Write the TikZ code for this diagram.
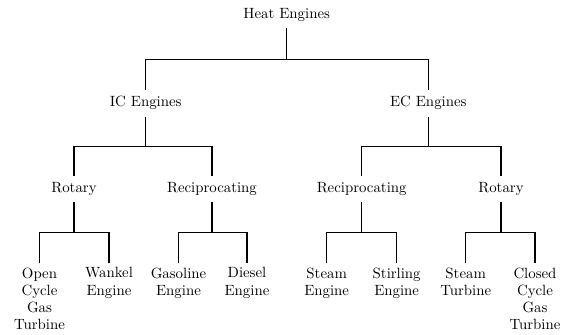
\documentclass[tikz,border=0pt]{standalone}
\begin{document}
\begin{tikzpicture}[x=0.6734pt,y=-0.6734pt,
  inner/.style={inner xsep=2pt,inner ysep=4.4pt,anchor=center},
  leaf/.style={align=center,anchor=north,inner xsep=1pt,inner ysep=2.7pt,
    font=\fontsize{10}{11.6}\selectfont},
  edge/.style={line width=1pt}]
\useasboundingbox (0,0) rectangle (563,334);
% nodes
\node[inner] (he) at (286.7,15) {Heat Engines};
\node[inner] (ic) at (145.7,103.2) {IC Engines};
\node[inner] (ec) at (428.3,103.2) {EC Engines};
\node[inner] (r1) at (74,189) {Rotary};
\node[inner] (p1) at (212,189) {Reciprocating};
\node[inner] (p2) at (361.7,189) {Reciprocating};
\node[inner] (r2) at (501,189) {Rotary};
\node[leaf] (l1) at (39.5,263.3) {Open\\Cycle\\Gas\\Turbine};
\node[leaf] (l2) at (109,263.3) {Wankel\\Engine};
\node[leaf] (l3) at (178.5,263.3) {Gasoline\\Engine};
\node[leaf] (l4) at (247,263.3) {Diesel\\Engine};
\node[leaf] (l5) at (326.7,263.3) {Steam\\Engine};
\node[leaf] (l6) at (396.7,263.3) {Stirling\\Engine};
\node[leaf] (l7) at (465.7,263.3) {Steam\\Turbine};
\node[leaf] (l8) at (535,263.3) {Closed\\Cycle\\Gas\\Turbine};
% fork points
\coordinate (fhe) at (286.7,59.7);
\coordinate (fic) at (145.7,146.7);
\coordinate (fec) at (428.3,146.7);
\coordinate (fr1) at (74,232.7);
\coordinate (fp1) at (212,232.7);
\coordinate (fp2) at (361.7,232.7);
\coordinate (fr2) at (501,232.7);
% connectors
\draw[edge] (he.south) -- (fhe);
\draw[edge] (ic.north) |- (fhe) -| (ec.north);
\draw[edge] (ic.south) -- (fic);
\draw[edge] (r1.north) |- (fic) -| (p1.north);
\draw[edge] (ec.south) -- (fec);
\draw[edge] (p2.north) |- (fec) -| (r2.north);
\draw[edge] (r1.south) -- (fr1);
\draw[edge] (l1.north) |- (fr1) -| (l2.north);
\draw[edge] (p1.south) -- (fp1);
\draw[edge] (l3.north) |- (fp1) -| (l4.north);
\draw[edge] (p2.south) -- (fp2);
\draw[edge] (l5.north) |- (fp2) -| (l6.north);
\draw[edge] (r2.south) -- (fr2);
\draw[edge] (l7.north) |- (fr2) -| (l8.north);
\end{tikzpicture}
\end{document}
